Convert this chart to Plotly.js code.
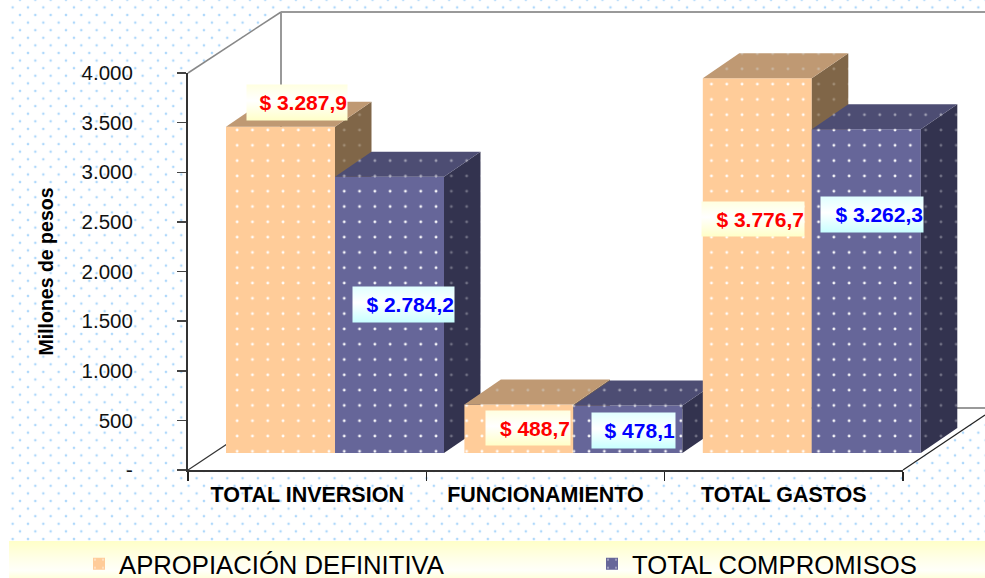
<!DOCTYPE html>
<html>
<head>
<meta charset="utf-8">
<script src="https://cdn.plot.ly/plotly-3.0.1.min.js"></script>
<style>
html,body{margin:0;padding:0;background:#fff;overflow:hidden}
#stage{position:relative;width:985px;height:578px;overflow:hidden}
#dots{position:absolute;left:10px;top:0;width:975px;height:541px;
background-image:radial-gradient(circle 1.7px,#a8d5fb 0,#a8d5fb 35%,rgba(168,213,251,0) 100%),radial-gradient(circle 1.7px,#a8d5fb 0,#a8d5fb 35%,rgba(168,213,251,0) 100%);
background-size:15.33px 15.2px,15.33px 15.2px;
background-position:2.33px 7.4px,-5px 15px}
#band{position:absolute;left:9px;top:541px;width:976px;height:37px;
background:linear-gradient(#ffffc8 0,#ffffe6 45%,#fffffa 80%,#ffffdc 100%)}
#chart{position:absolute;left:0;top:0;width:985px;height:578px}
</style>
</head>
<body>
<div id="stage"><div id="dots"></div><div id="band"></div><div id="chart"></div></div>
<script>
// ---- data ----
const categories = ['TOTAL INVERSION', 'FUNCIONAMIENTO', 'TOTAL GASTOS'];
const apropiacion = [3287.9, 488.7, 3776.7];
const compromisos = [2784.2, 478.1, 3262.3];
const seriesNames = ['APROPIACIÓN DEFINITIVA', 'TOTAL COMPROMISOS'];
const yTickVals = [0, 500, 1000, 1500, 2000, 2500, 3000, 3500, 4000];
const yTickText = ['-', '500', '1.000', '1.500', '2.000', '2.500', '3.000', '3.500', '4.000'];

// ---- geometry of the fake-3D box (pixels of the 985x578 page) ----
const W = 985, H = 578;
const fx = p => p / W, fy = p => 1 - p / H;
const axisLeft = 188, axisRight = 903, axisBottom = 470, axisTop = 73;
const unitPx = (axisBottom - axisTop) / 4000;     // px per peso unit
const barBasePx = 453, firstCatPx = 335, catStepPx = 238.4, barWidthPx = 109;
const depthPx = [36.5, 25];

// hidden axes for the bars: bars sit in front of the floor, shifted from the visible axes
const xRange = [(0 - firstCatPx) / catStepPx, (W - firstCatPx) / catStepPx];
const yRange = [(barBasePx - H) / unitPx, barBasePx / unitPx];
const barW = barWidthPx / catStepPx, dX = depthPx[0] / catStepPx, dY = depthPx[1] / unitPx;

const styles = [
  {front:'#FFCC99', top:'#BF9973', side:'#806648', dotFront:'#ffffff', dotTop:'#c9b7a3', dotSide:'#a39078', off:-barW},
  {front:'#666699', top:'#4D4D73', side:'#33334F', dotFront:'#ffffff', dotTop:'#a5a5b8', dotSide:'#77778a', off:0}
];
const dotSize = 15.3;
const dotSolidity = 0.027;
const traces = [];
const legendBase = {
  orientation: 'h', xanchor: 'left', yanchor: 'middle', y: fy(564),
  bgcolor: 'rgba(0,0,0,0)', font: {size: 25.7, color: '#000'},
  itemwidth: 30, itemclick: false, itemdoubleclick: false
};
const layout = {
  width: W, height: H, margin: {l:0, r:0, t:0, b:0, autoexpand:false},
  paper_bgcolor: 'rgba(0,0,0,0)', plot_bgcolor: 'rgba(0,0,0,0)',
  barmode: 'overlay', showlegend: true, hovermode: false,
  font: {family: 'Liberation Sans, Arial, sans-serif', color: '#000'},
  xaxis: {
    domain: [fx(axisLeft), fx(axisRight)], type: 'category', categoryarray: categories, categoryorder: 'array',
    range: [-0.5, 2.5], tickson: 'boundaries', ticks: 'outside', ticklen: 9, tickwidth: 1.5, tickcolor: '#222',
    showline: true, linecolor: '#333', linewidth: 2, showgrid: false, zeroline: false,
    tickfont: {size: 21.5, color: '#000', weight: 700}, ticklabelstandoff: 4, anchor: 'y', fixedrange: true
  },
  yaxis: {
    domain: [fy(axisBottom), fy(axisTop)], range: [0, 4000], tickvals: yTickVals, ticktext: yTickText, tickmode: 'array',
    ticks: 'outside', ticklen: 9, tickwidth: 1.5, tickcolor: '#444',
    showline: true, linecolor: '#333', linewidth: 2, showgrid: false, zeroline: false,
    tickfont: {size: 20.5, color: '#111'}, ticklabelstandoff: 40,
    title: {text: 'Millones de pesos', font: {size: 19.5, weight: 700, color: '#000'}, standoff: 23},
    anchor: 'x', fixedrange: true
  },
  xaxis2: {domain: [0, 1], range: xRange, visible: false, fixedrange: true, anchor: 'y2'},
  yaxis2: {domain: [0, 1], range: yRange, visible: false, fixedrange: true, anchor: 'x2'},
  legend: Object.assign({}, legendBase, {x: fx(79)}),
  legend2: Object.assign({}, legendBase, {x: fx(592)}),
  shapes: [
    {type:'path', layer:'below', xref:'paper', yref:'paper',
     path:'M'+fx(188)+','+fy(73)+'L'+fx(281)+','+fy(12)+'L'+fx(985)+','+fy(12)+'L'+fx(985)+','+fy(415)+'L'+fx(903)+','+fy(470)+'L'+fx(188)+','+fy(470)+'Z',
     fillcolor:'#fff', line:{width:0}},
    wallLine(281,12,985,12,'#999',2), wallLine(281,12,281,408,'#999',2), wallLine(281,408,985,408,'#999',2),
    wallLine(188,73,281,12,'#888',1.5), wallLine(188,470,281,408,'#333',1.2), wallLine(903,470,985,415,'#222',1.2)
  ],
  annotations: []
};
function wallLine(x0,y0,x1,y1,c,w){
  return {type:'line', layer:'below', xref:'paper', yref:'paper', x0:fx(x0), y0:fy(y0), x1:fx(x1), y1:fy(y1), line:{color:c,width:w}};
}

// one overlaid pair of hidden axes per bar, so that the boxes paint back-to-front
traces.push({type:'scatter', mode:'none', x:categories, y:apropiacion, xaxis:'x', yaxis:'y', showlegend:false, hoverinfo:'skip'});
let layer = 2;
function face(xs, ys, axX, axY, fill, dot){
  return {type:'scatter', mode:'lines', x:xs, y:ys, xaxis:axX, yaxis:axY, fill:'toself', fillcolor:fill, line:{width:0, color:fill},
    fillpattern:{shape:'.', size:dotSize, solidity:dotSolidity, fgcolor:dot, bgcolor:fill, fgopacity:0.9}, showlegend:false, hoverinfo:'skip'};
}
categories.forEach((cat, i) => {
  [apropiacion, compromisos].forEach((vals, s) => {
    const st = styles[s], v = vals[i];
    const axX = 'x' + layer, axY = 'y' + layer;
    if (layer > 2) {
      layout['xaxis' + layer] = {range: xRange, visible:false, overlaying:'x2', fixedrange:true, anchor:axY};
      layout['yaxis' + layer] = {range: yRange, visible:false, overlaying:'y2', fixedrange:true, anchor:axX};
    }
    const xl = i + st.off, xr = xl + barW;
    traces.push(face([xr, xr + dX, xr + dX, xr, xr], [0, dY, v + dY, v, 0], axX, axY, st.side, st.dotSide));
    traces.push(face([xl, xl + dX, xr + dX, xr, xl], [v, v + dY, v + dY, v, v], axX, axY, st.top, st.dotTop));
    traces.push({type:'bar', x:[i], y:[v], width:barW, offset:st.off, xaxis:axX, yaxis:axY, name:seriesNames[s],
      legend: s === 0 ? 'legend' : 'legend2', showlegend:i === 0, hoverinfo:'skip',
      marker:{color:st.front, line:{width:0}, pattern:{shape:'.', size:dotSize, solidity:dotSolidity, fgcolor:st.dotFront, bgcolor:st.front, fgopacity:0.95}}});
    layer++;
  });
});

// value labels: box centres in page pixels
const labelCentres = [[297,102.5],[403.5,304.5],[528,428],[633.5,430.5],[753,219],[872,214.5]];
const labelSizes = [[100,35],[101,35],[84,34],[83,35],[102,34],[102,35]];
const labelTexts = [];
categories.forEach((c,i) => { labelTexts.push(fmt(apropiacion[i])); labelTexts.push(fmt(compromisos[i])); });
function fmt(v){
  const p = v.toFixed(1).split('.');
  return '$ ' + p[0].replace(/\B(?=(\d{3})+$)/g,'.') + ',' + p[1];
}
labelTexts.forEach((t,k) => {
  const red = k % 2 === 0;
  layout.annotations.push({
    xref:'paper', yref:'paper', x:fx(labelCentres[k][0]), y:fy(labelCentres[k][1]), xanchor:'center', yanchor:'middle',
    text:'<b>'+t+'</b>', showarrow:false, width:labelSizes[k][0], height:labelSizes[k][1], align:'right', valign:'middle', borderpad:0,
    bgcolor: red ? '#ffffe6' : '#e4ffff', font:{size:21, color: red ? '#ff0000' : '#0000ff'}
  });
});

Plotly.newPlot('chart', traces, layout, {displayModeBar:false, staticPlot:true}).then(gd => {
  // soft vertical gradient of the label boxes
  const svg = gd.querySelector('svg.main-svg');
  const NS = 'http://www.w3.org/2000/svg';
  const defs = document.createElementNS(NS,'defs');
  defs.innerHTML = '<linearGradient id="gY" x1="0" y1="0" x2="0" y2="1"><stop offset="0" stop-color="#ffffe0"/><stop offset=".45" stop-color="#ffffff"/><stop offset="1" stop-color="#ffffc8"/></linearGradient>'+
                   '<linearGradient id="gB" x1="0" y1="0" x2="0" y2="1"><stop offset="0" stop-color="#e0ffff"/><stop offset=".45" stop-color="#ffffff"/><stop offset="1" stop-color="#c8ffff"/></linearGradient>';
  svg.appendChild(defs);
  gd.querySelectorAll('.annotation-text-g rect.bg').forEach((r,k) => { r.style.fill = 'url(#' + (k % 2 === 0 ? 'gY' : 'gB') + ')'; });
  // larger legend swatches, as in the original
  gd.querySelectorAll('.legendbar path, .legendpoints .legendundefined path').forEach(p => p.setAttribute('d','M12,8H-4V-8H12Z'));
});
</script>
</body>
</html>
